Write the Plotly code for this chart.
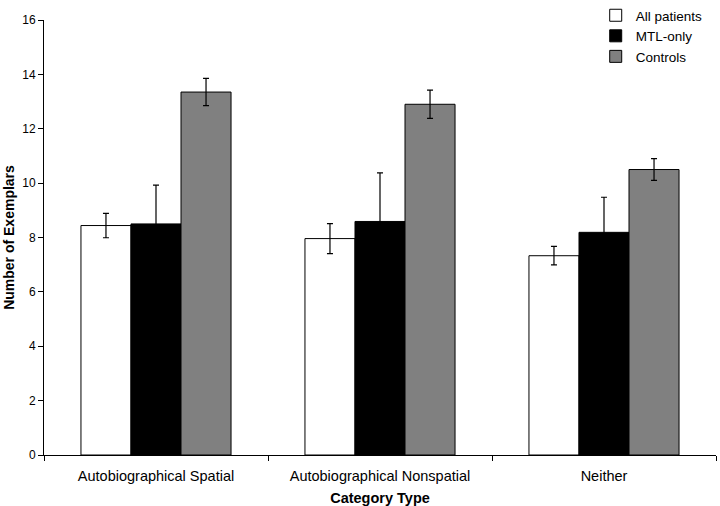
import plotly.graph_objects as go

categories = ["Autobiographical Spatial", "Autobiographical Nonspatial", "Neither"]
series_names = ["All patients", "MTL-only", "Controls"]
all_patients = [8.44, 7.96, 7.33]
all_patients_err = [0.45, 0.55, 0.34]
mtl_only = [8.50, 8.59, 8.19]
mtl_only_err = [1.43, 1.79, 1.29]
controls = [13.35, 12.90, 10.50]
controls_err = [0.50, 0.52, 0.40]
y_ticks = [0, 2, 4, 6, 8, 10, 12, 14, 16]

values = [all_patients, mtl_only, controls]
errors = [all_patients_err, mtl_only_err, controls_err]
colors = ["#ffffff", "#000000", "#808080"]

fig = go.Figure()
for name, v, e, c in zip(series_names, values, errors, colors):
    fig.add_trace(go.Bar(
        x=categories, y=v, name=name,
        marker=dict(color=c, line=dict(color="#000000", width=1)),
        error_y=dict(type="data", array=e, visible=True, color="#000000", thickness=1.2, width=3),
    ))

font = "Liberation Sans, Arial, sans-serif"
fig.update_layout(
    width=720, height=506,
    margin=dict(l=44, r=4, t=20, b=51, autoexpand=False),
    paper_bgcolor="white", plot_bgcolor="white",
    barmode="group", bargap=0.33, bargroupgap=0,
    font=dict(family=font, size=12, color="#000000"),
    legend=dict(x=0.821, y=1.046, xanchor="left", yanchor="top",
                font=dict(family=font, size=13.5), bgcolor="rgba(0,0,0,0)",
                tracegroupgap=0, borderwidth=0),
    showlegend=True,
)
fig.update_xaxes(
    automargin=False,
    tickson="boundaries", ticks="outside", ticklen=5, tickcolor="#000000",
    ticklabelstandoff=8,
    showline=True, linecolor="#000000", linewidth=1,
    tickfont=dict(family=font, size=14.5),
    title=dict(text="<b>Category Type</b>", font=dict(family=font, size=14.5), standoff=9),
    showgrid=False,
)
fig.update_yaxes(
    automargin=False,
    range=[0, 16], tickvals=y_ticks, ticks="outside", ticklen=5, tickcolor="#000000",
    showline=True, linecolor="#000000", linewidth=1,
    tickfont=dict(family=font, size=12),
    title=dict(text="<b>Number of Exemplars</b>", font=dict(family=font, size=14), standoff=4),
    showgrid=False, zeroline=False,
)
fig.write_html("out.html", config={"displayModeBar": False},
               post_script="document.body.style.margin='0';")
